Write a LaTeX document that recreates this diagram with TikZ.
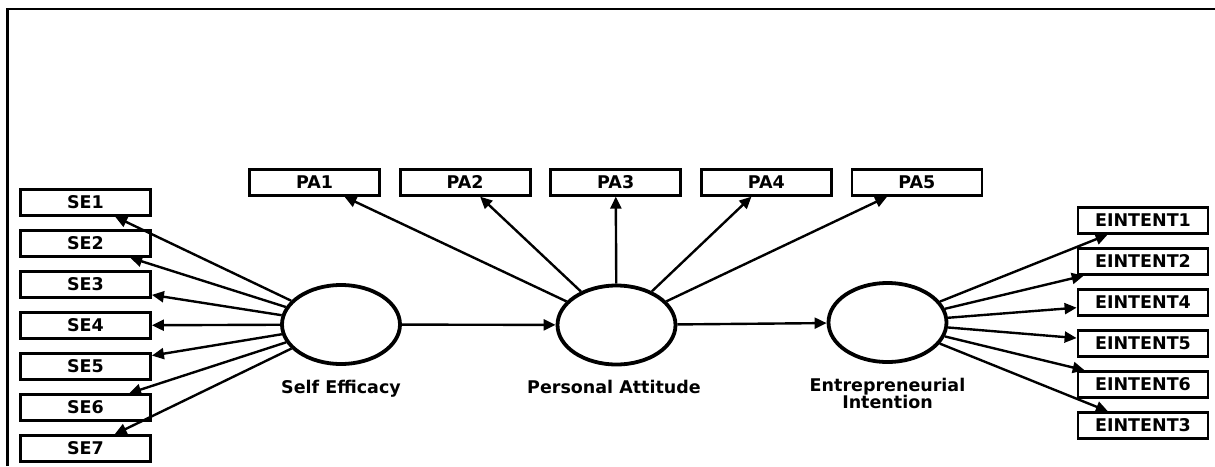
\documentclass[tikz,border=0pt]{standalone}
\usepackage{fontspec}
\setmainfont{DejaVu Sans}
\usetikzlibrary{shapes.geometric,arrows.meta}
\begin{document}
\begin{tikzpicture}[x=1pt,y=-1pt,
  txt/.style={font=\bfseries\fontsize{17.5}{20}\selectfont},
  indicator/.style={draw,line width=2.8pt,rectangle,minimum width=130pt,
    minimum height=25.5pt,inner sep=0pt,txt},
  latent/.style={draw,line width=3.8pt,ellipse,minimum width=118pt,
    minimum height=79pt,inner sep=0pt},
  lbl/.style={txt,anchor=base,align=center},
  load/.style={line width=2.4pt,-{Triangle[length=12pt,width=11pt]}}]
  \useasboundingbox (0,0) rectangle (1215,466);

  % frame lines
  \draw[line width=2.5pt] (7.5,466) -- (7.5,9) -- (1215,9);

  % latent variables
  \node[latent] (se) at (341,324.5) {};
  \node[latent] (pa) at (616.5,325) {};
  \node[latent] (ei) at (887.5,322.5) {};
  \node[lbl] (selbl) at (341,393) {Self Efficacy};
  \node[lbl] (palbl) at (614,393) {Personal Attitude};
  \node[lbl] (eilbl1) at (887.5,391) {Entrepreneurial};
  \node[lbl] (eilbl2) at (887.5,408) {Intention};

  % self efficacy indicators
  \foreach \i in {1,...,7}
    \node[indicator] (se\i) at (85.5,{202.5+41*(\i-1)}) {SE\i};

  % personal attitude indicators
  \foreach \j in {1,...,5}
    \node[indicator] (pa\j) at ({314.5+150.6*(\j-1)},182.5) {PA\j};

  % entrepreneurial intention indicators
  \foreach \k/\n in {0/1,1/2,2/4,3/5,4/6,5/3}
    \node[indicator] (ei\n) at (1143,{220.5+41*\k}) {EINTENT\n};

  % loadings
  \foreach \i in {1,...,7} \draw[load] (se) -- (se\i);
  \foreach \j in {1,...,5} \draw[load] (pa) -- (pa\j);
  \foreach \n in {1,...,6} \draw[load] (ei) -- (ei\n);

  % structural paths
  \draw[load] (se) -- (pa);
  \draw[load] (pa) -- (ei);
\end{tikzpicture}
\end{document}
